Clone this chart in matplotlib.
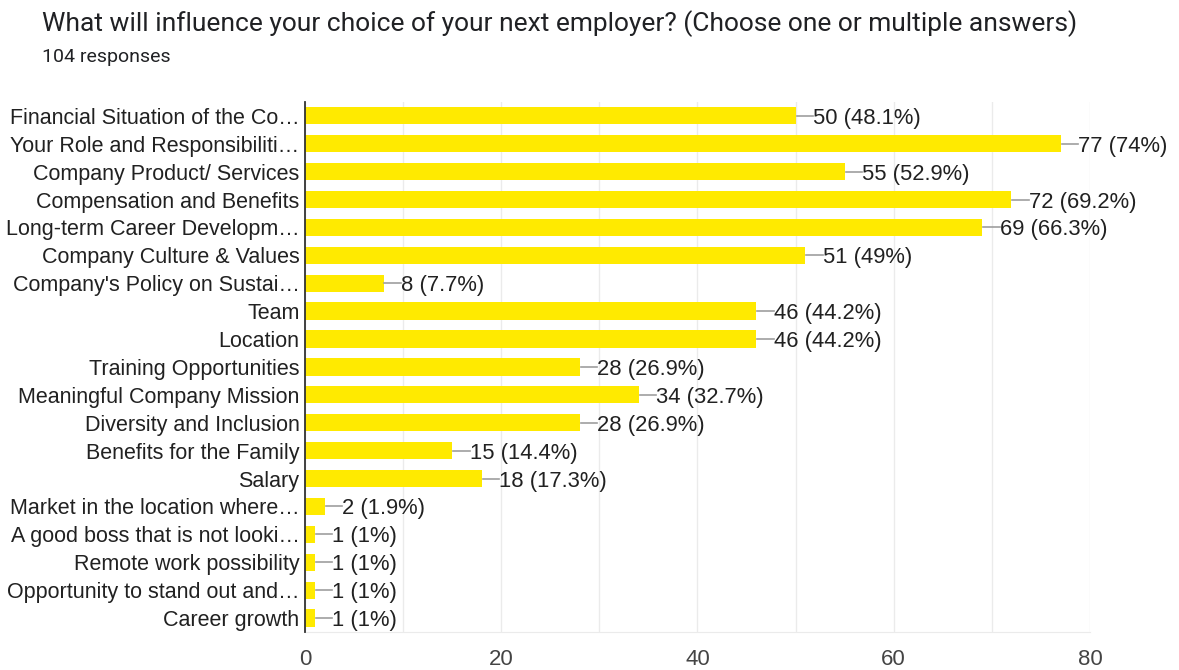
import numpy as np
import matplotlib.pyplot as plt
from matplotlib.ticker import MultipleLocator

categories = [
    'Financial Situation of the Co…',
    'Your Role and Responsibiliti…',
    'Company Product/ Services',
    'Compensation and Benefits',
    'Long-term Career Developm…',
    'Company Culture & Values',
    "Company's Policy on Sustai…",
    'Team',
    'Location',
    'Training Opportunities',
    'Meaningful Company Mission',
    'Diversity and Inclusion',
    'Benefits for the Family',
    'Salary',
    'Market in the location where…',
    'A good boss that is not looki…',
    'Remote work possibility',
    'Opportunity to stand out and…',
    'Career growth',
]
counts = [50, 77, 55, 72, 69, 51, 8, 46, 46, 28, 34, 28, 15, 18, 2, 1, 1, 1, 1]
percents = ['48.1%', '74%', '52.9%', '69.2%', '66.3%', '49%', '7.7%', '44.2%', '44.2%',
            '26.9%', '32.7%', '26.9%', '14.4%', '17.3%', '1.9%', '1%', '1%', '1%', '1%']
total_responses = 104

fig = plt.figure(figsize=(11.79, 6.70), dpi=100)
ax = fig.add_axes([0.2587, 0.0567, 0.9245 - 0.2587, 0.848 - 0.0567])

y = np.arange(len(categories))
ax.barh(y, counts, height=0.62, color='#ffea00', zorder=3)

# tiny connector line + count label at the end of each bar
for yi, c, p in zip(y, counts, percents):
    ax.plot([c + 0.1, c + 1.8], [yi, yi], color='#9e9e9e', lw=1.2, zorder=3)
    ax.text(c + 1.8, yi, f'{c} ({p})', va='center_baseline', ha='left',
            fontsize=15.8, color='#212121', family='Liberation Sans')

ax.set_ylim(len(categories) - 0.5, -0.5)
ax.set_xlim(0, 80)
ax.xaxis.set_major_locator(MultipleLocator(20))
ax.xaxis.set_minor_locator(MultipleLocator(10))
ax.grid(True, axis='x', which='both', color='#ebebeb', lw=1, zorder=0)

ax.set_yticks(y)
ax.set_yticklabels(categories, fontsize=15.5, color='#212121', family='Liberation Sans',
                   va='center_baseline')
ax.tick_params(axis='y', length=0, pad=4)
ax.tick_params(axis='x', which='both', length=0, pad=12, labelsize=16, labelcolor='#444444')
for lbl in ax.get_xticklabels():
    lbl.set_family('Liberation Sans')

for side in ['top', 'right']:
    ax.spines[side].set_visible(False)
ax.spines['bottom'].set_color('#ebebeb')
ax.spines['left'].set_color('#333333')
ax.spines['left'].set_linewidth(1.3)
ax.spines['left'].set_zorder(4)

fig.text(0.0356, 0.965, 'What will influence your choice of your next employer? (Choose one or multiple answers)',
         fontsize=19, family='Roboto', color='#202124', va='center')
fig.text(0.0356, 0.915, f'{total_responses} responses', fontsize=14, family='Roboto',
         color='#202124', va='center')

fig.savefig('out.png', dpi=100)
